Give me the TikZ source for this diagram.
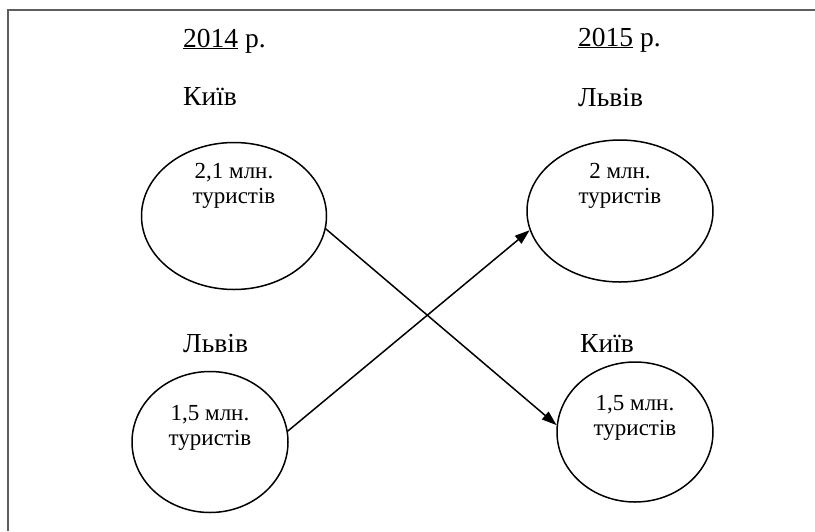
\documentclass[tikz,border=0pt]{standalone}
\usepackage{fontspec}
\setmainfont{Liberation Serif}
\usetikzlibrary{arrows.meta,shapes.geometric}

\definecolor{framegray}{HTML}{5E5E5E}

\tikzset{
  city/.style={ellipse, draw, line width=1.5pt, inner sep=0pt},
  heading/.style={anchor=base west, inner sep=0pt, font=\fontsize{27.5}{30}\selectfont},
  amount/.style={anchor=base, inner sep=0pt, align=center,
                 font=\fontsize{23}{24.5}\selectfont},
  flow/.style={line width=1.5pt, -{Triangle[length=15pt,width=10pt]}}
}

\begin{document}
\begin{tikzpicture}[x=1pt, y=-1pt]
  \useasboundingbox (0,0) rectangle (815,531);

  % page frame (left and top edges)
  \draw[framegray, line width=2pt] (8,531) -- (8,10) -- (815,10);

  % column headings
  \node[heading] (y14) at (183,47) {\underline{2014} р.};
  \node[heading] (y15) at (578,46) {\underline{2015} р.};

  % city names
  \node[heading] (kyiv14) at (183,105) {Київ};
  \node[heading] (lviv15) at (578,106) {Львів};
  \node[heading] (lviv14) at (183,352) {Львів};
  \node[heading] (kyiv15) at (580,352) {Київ};

  % tourist-count ellipses
  \node[city, minimum width=185pt, minimum height=147pt] (k14) at (234,216) {};
  \node[city, minimum width=186pt, minimum height=142pt] (l15) at (620,211) {};
  \node[city, minimum width=156pt, minimum height=141pt] (l14) at (210,442) {};
  \node[city, minimum width=156pt, minimum height=140pt] (k15) at (635,432) {};

  % texts inside the ellipses (anchored at the baseline of the last line)
  \node[amount] (tk14) at (234,203) {2,1 млн.\\туристів};
  \node[amount] (tl15) at (620,203) {2 млн.\\туристів};
  \node[amount] (tl14) at (210,445) {1,5 млн.\\туристів};
  \node[amount] (tk15) at (635,435) {1,5 млн.\\туристів};

  % crossing arrows
  \draw[flow] (k14.-8) -- (k15.175);
  \draw[flow] (l14.8) -- (l15.-168);
\end{tikzpicture}
\end{document}
